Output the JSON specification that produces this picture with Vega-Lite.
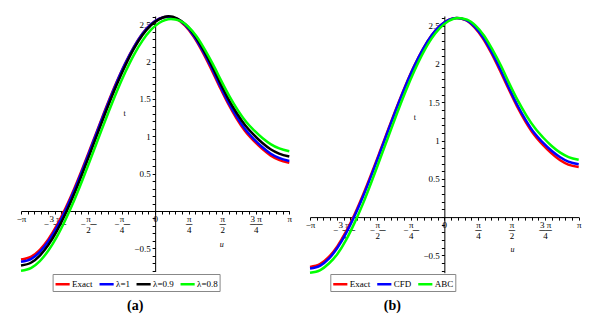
{
"$schema": "https://vega.github.io/schema/vega-lite/v6.json",
"padding": {"left": 16, "top": 11, "right": 5, "bottom": 5},
"bounds": "flush",
"spacing": 20,
"config": {"view": {"stroke": null}, "axis": {"grid": false, "domainColor": "black", "tickColor": "black", "labelColor": "black", "titleColor": "black", "labelFont": "Liberation Serif", "titleFont": "Liberation Serif", "labelOverlap": false, "labelFlush": false, "labelBound": false, "tickSize": 3, "domainWidth": 1, "tickWidth": 1}},
"resolve": {"scale": {"color": "independent"}, "legend": {"color": "independent"}},
"hconcat": [
{
"width": 268.3, "height": 255.5,
"title": {"text": "(a)", "orient": "bottom", "font": "Liberation Serif", "fontSize": 14, "fontWeight": "bold", "dx": -20, "offset": 7},
"data": {"values": [
{"u":-3.14159,"t":-0.65,"s":"Exact"},{"u":-2.9,"t":-0.61,"s":"Exact"},{"u":-2.7,"t":-0.52,"s":"Exact"},{"u":-2.5,"t":-0.378,"s":"Exact"},{"u":-2.3,"t":-0.19,"s":"Exact"},{"u":-2.1,"t":0.035,"s":"Exact"},{"u":-1.9,"t":0.291,"s":"Exact"},{"u":-1.7,"t":0.572,"s":"Exact"},{"u":-1.5,"t":0.866,"s":"Exact"},{"u":-1.3,"t":1.163,"s":"Exact"},{"u":-1.1,"t":1.455,"s":"Exact"},{"u":-0.9,"t":1.729,"s":"Exact"},{"u":-0.7,"t":1.978,"s":"Exact"},{"u":-0.5,"t":2.194,"s":"Exact"},{"u":-0.3,"t":2.371,"s":"Exact"},{"u":-0.1,"t":2.499,"s":"Exact"},{"u":0.1,"t":2.575,"s":"Exact"},{"u":0.28,"t":2.6,"s":"Exact"},{"u":0.5,"t":2.57,"s":"Exact"},{"u":0.7,"t":2.48,"s":"Exact"},{"u":0.9,"t":2.335,"s":"Exact"},{"u":1.1,"t":2.14,"s":"Exact"},{"u":1.3,"t":1.915,"s":"Exact"},{"u":1.5,"t":1.675,"s":"Exact"},{"u":1.7,"t":1.445,"s":"Exact"},{"u":1.9,"t":1.245,"s":"Exact"},{"u":2.1,"t":1.075,"s":"Exact"},{"u":2.3,"t":0.945,"s":"Exact"},{"u":2.5,"t":0.835,"s":"Exact"},{"u":2.7,"t":0.745,"s":"Exact"},{"u":2.9,"t":0.685,"s":"Exact"},{"u":3.14159,"t":0.645,"s":"Exact"},
{"u":-3.14159,"t":-0.68,"s":"λ=1"},{"u":-2.9,"t":-0.64,"s":"λ=1"},{"u":-2.7,"t":-0.548,"s":"λ=1"},{"u":-2.5,"t":-0.405,"s":"λ=1"},{"u":-2.3,"t":-0.216,"s":"λ=1"},{"u":-2.1,"t":0.011,"s":"λ=1"},{"u":-1.9,"t":0.27,"s":"λ=1"},{"u":-1.7,"t":0.553,"s":"λ=1"},{"u":-1.5,"t":0.85,"s":"λ=1"},{"u":-1.3,"t":1.15,"s":"λ=1"},{"u":-1.1,"t":1.444,"s":"λ=1"},{"u":-0.9,"t":1.721,"s":"λ=1"},{"u":-0.7,"t":1.972,"s":"λ=1"},{"u":-0.5,"t":2.19,"s":"λ=1"},{"u":-0.3,"t":2.369,"s":"λ=1"},{"u":-0.1,"t":2.498,"s":"λ=1"},{"u":0.1,"t":2.575,"s":"λ=1"},{"u":0.29,"t":2.6,"s":"λ=1"},{"u":0.5,"t":2.575,"s":"λ=1"},{"u":0.7,"t":2.49,"s":"λ=1"},{"u":0.9,"t":2.35,"s":"λ=1"},{"u":1.1,"t":2.16,"s":"λ=1"},{"u":1.3,"t":1.94,"s":"λ=1"},{"u":1.5,"t":1.7,"s":"λ=1"},{"u":1.7,"t":1.47,"s":"λ=1"},{"u":1.9,"t":1.27,"s":"λ=1"},{"u":2.1,"t":1.1,"s":"λ=1"},{"u":2.3,"t":0.97,"s":"λ=1"},{"u":2.5,"t":0.86,"s":"λ=1"},{"u":2.7,"t":0.77,"s":"λ=1"},{"u":2.9,"t":0.71,"s":"λ=1"},{"u":3.14159,"t":0.67,"s":"λ=1"},
{"u":-3.14159,"t":-0.73,"s":"λ=0.9"},{"u":-2.9,"t":-0.69,"s":"λ=0.9"},{"u":-2.7,"t":-0.597,"s":"λ=0.9"},{"u":-2.5,"t":-0.454,"s":"λ=0.9"},{"u":-2.3,"t":-0.265,"s":"λ=0.9"},{"u":-2.1,"t":-0.037,"s":"λ=0.9"},{"u":-1.9,"t":0.224,"s":"λ=0.9"},{"u":-1.7,"t":0.509,"s":"λ=0.9"},{"u":-1.5,"t":0.808,"s":"λ=0.9"},{"u":-1.3,"t":1.11,"s":"λ=0.9"},{"u":-1.1,"t":1.408,"s":"λ=0.9"},{"u":-0.9,"t":1.689,"s":"λ=0.9"},{"u":-0.7,"t":1.945,"s":"λ=0.9"},{"u":-0.5,"t":2.169,"s":"λ=0.9"},{"u":-0.3,"t":2.352,"s":"λ=0.9"},{"u":-0.1,"t":2.485,"s":"λ=0.9"},{"u":0.1,"t":2.569,"s":"λ=0.9"},{"u":0.31,"t":2.605,"s":"λ=0.9"},{"u":0.519,"t":2.576,"s":"λ=0.9"},{"u":0.717,"t":2.494,"s":"λ=0.9"},{"u":0.916,"t":2.358,"s":"λ=0.9"},{"u":1.114,"t":2.174,"s":"λ=0.9"},{"u":1.313,"t":1.961,"s":"λ=0.9"},{"u":1.512,"t":1.728,"s":"λ=0.9"},{"u":1.71,"t":1.505,"s":"λ=0.9"},{"u":1.909,"t":1.311,"s":"λ=0.9"},{"u":2.108,"t":1.147,"s":"λ=0.9"},{"u":2.306,"t":1.021,"s":"λ=0.9"},{"u":2.505,"t":0.914,"s":"λ=0.9"},{"u":2.703,"t":0.827,"s":"λ=0.9"},{"u":2.902,"t":0.769,"s":"λ=0.9"},{"u":3.14159,"t":0.73,"s":"λ=0.9"},
{"u":-3.14159,"t":-0.8,"s":"λ=0.8"},{"u":-2.9,"t":-0.761,"s":"λ=0.8"},{"u":-2.7,"t":-0.67,"s":"λ=0.8"},{"u":-2.5,"t":-0.53,"s":"λ=0.8"},{"u":-2.3,"t":-0.344,"s":"λ=0.8"},{"u":-2.1,"t":-0.118,"s":"λ=0.8"},{"u":-1.9,"t":0.137,"s":"λ=0.8"},{"u":-1.7,"t":0.418,"s":"λ=0.8"},{"u":-1.5,"t":0.714,"s":"λ=0.8"},{"u":-1.3,"t":1.015,"s":"λ=0.8"},{"u":-1.1,"t":1.312,"s":"λ=0.8"},{"u":-0.9,"t":1.597,"s":"λ=0.8"},{"u":-0.7,"t":1.857,"s":"λ=0.8"},{"u":-0.5,"t":2.087,"s":"λ=0.8"},{"u":-0.3,"t":2.277,"s":"λ=0.8"},{"u":-0.1,"t":2.423,"s":"λ=0.8"},{"u":0.1,"t":2.52,"s":"λ=0.8"},{"u":0.37,"t":2.57,"s":"λ=0.8"},{"u":0.574,"t":2.547,"s":"λ=0.8"},{"u":0.769,"t":2.469,"s":"λ=0.8"},{"u":0.963,"t":2.341,"s":"λ=0.8"},{"u":1.157,"t":2.166,"s":"λ=0.8"},{"u":1.352,"t":1.965,"s":"λ=0.8"},{"u":1.546,"t":1.745,"s":"λ=0.8"},{"u":1.741,"t":1.534,"s":"λ=0.8"},{"u":1.935,"t":1.35,"s":"λ=0.8"},{"u":2.129,"t":1.194,"s":"λ=0.8"},{"u":2.324,"t":1.075,"s":"λ=0.8"},{"u":2.518,"t":0.974,"s":"λ=0.8"},{"u":2.713,"t":0.892,"s":"λ=0.8"},{"u":2.907,"t":0.837,"s":"λ=0.8"},{"u":3.14159,"t":0.8,"s":"λ=0.8"}
]},
"mark": {"type": "line", "strokeWidth": 2.5, "interpolate": "monotone"},
"encoding": {
"x": {"field": "u", "type": "quantitative", "scale": {"domain": [-3.14159265, 3.14159265], "nice": false, "zero": false},
 "axis": {"values": [-3.14159265,-2.98451302,-2.82743339,-2.67035376,-2.51327412,-2.35619449,-2.19911486,-2.04203522,-1.88495559,-1.72787596,-1.57079633,-1.41371669,-1.25663706,-1.09955743,-0.9424778,-0.78539816,-0.62831853,-0.4712389,-0.31415927,-0.15707963,0,0.15707963,0.31415927,0.4712389,0.62831853,0.78539816,0.9424778,1.09955743,1.25663706,1.41371669,1.57079633,1.72787596,1.88495559,2.04203522,2.19911486,2.35619449,2.51327412,2.67035376,2.82743339,2.98451302,3.14159265],
 "offset": -60.5, "title": "u", "titleX": 200.3, "titleY": 33, "titleBaseline": "middle", "titleFontStyle": "italic", "titleFontWeight": "normal", "titleFontSize": 8,
 "labelFontSize": 9, "labelLineHeight": 5.5, "labelPadding": 0,
 "labelExpr": "round(datum.value*20/PI)%5!=0 ? '' : round(datum.value*4/PI)==-4 ? '−π' : round(datum.value*4/PI)==-3 ? ['3 π','−\u2002──\u2002\u2002','4'] : round(datum.value*4/PI)==-2 ? ['π','−\u2002─\u2002\u2002','2'] : round(datum.value*4/PI)==-1 ? ['π','−\u2002─\u2002\u2002','4'] : round(datum.value*4/PI)==0 ? '0\u2002\u2002' : round(datum.value*4/PI)==1 ? ['π','─','4'] : round(datum.value*4/PI)==2 ? ['π','─','2'] : round(datum.value*4/PI)==3 ? ['3 π','──','4'] : 'π'"}},
"y": {"field": "t", "type": "quantitative", "scale": {"domain": [-0.81, 2.61], "nice": false, "zero": false},
 "axis": {"values": [-0.8,-0.7,-0.6,-0.5,-0.4,-0.3,-0.2,-0.1,0,0.1,0.2,0.3,0.4,0.5,0.6,0.7,0.8,0.9,1,1.1,1.2,1.3,1.4,1.5,1.6,1.7,1.8,1.9,2,2.1,2.2,2.3,2.4,2.5,2.6],
 "offset": -134.15, "title": "t", "titleAngle": 0, "titleX": -31, "titleY": 97.7, "titleAlign": "center", "titleBaseline": "middle", "titleFontWeight": "normal", "titleFontSize": 8,
 "labelFontSize": 9, "labelPadding": 2,
 "labelExpr": "abs(datum.value*2-round(datum.value*2))<0.001 && abs(datum.value)>0.001 ? format(datum.value,'') : ''"}},
"color": {"field": "s", "type": "nominal", "scale": {"domain": ["Exact","λ=1","λ=0.9","λ=0.8"], "range": ["#ff0000","#0000ff","#000000","#00ff00"]},
 "legend": {"orient": "none", "legendX": 31.6, "legendY": 258, "direction": "horizontal", "columns": 4, "title": null, "symbolType": "stroke", "symbolSize": 200, "symbolStrokeWidth": 2.5, "labelFont": "Liberation Serif", "labelFontSize": 9, "labelColor": "black", "strokeColor": "#888", "fillColor": "white", "padding": 1.5, "columnPadding": 1, "labelOffset": 1}}
}
},
{
"width": 268.7, "height": 256.7,
"title": {"text": "(b)", "orient": "bottom", "font": "Liberation Serif", "fontSize": 14, "fontWeight": "bold", "dx": -52, "offset": 7},
"data": {"values": [
{"u":-3.14159,"t":-0.65,"s":"Exact"},{"u":-2.9,"t":-0.61,"s":"Exact"},{"u":-2.7,"t":-0.52,"s":"Exact"},{"u":-2.5,"t":-0.378,"s":"Exact"},{"u":-2.3,"t":-0.19,"s":"Exact"},{"u":-2.1,"t":0.035,"s":"Exact"},{"u":-1.9,"t":0.291,"s":"Exact"},{"u":-1.7,"t":0.572,"s":"Exact"},{"u":-1.5,"t":0.866,"s":"Exact"},{"u":-1.3,"t":1.163,"s":"Exact"},{"u":-1.1,"t":1.455,"s":"Exact"},{"u":-0.9,"t":1.729,"s":"Exact"},{"u":-0.7,"t":1.978,"s":"Exact"},{"u":-0.5,"t":2.194,"s":"Exact"},{"u":-0.3,"t":2.371,"s":"Exact"},{"u":-0.1,"t":2.499,"s":"Exact"},{"u":0.1,"t":2.575,"s":"Exact"},{"u":0.28,"t":2.6,"s":"Exact"},{"u":0.5,"t":2.57,"s":"Exact"},{"u":0.7,"t":2.48,"s":"Exact"},{"u":0.9,"t":2.335,"s":"Exact"},{"u":1.1,"t":2.14,"s":"Exact"},{"u":1.3,"t":1.915,"s":"Exact"},{"u":1.5,"t":1.675,"s":"Exact"},{"u":1.7,"t":1.445,"s":"Exact"},{"u":1.9,"t":1.245,"s":"Exact"},{"u":2.1,"t":1.075,"s":"Exact"},{"u":2.3,"t":0.945,"s":"Exact"},{"u":2.5,"t":0.835,"s":"Exact"},{"u":2.7,"t":0.745,"s":"Exact"},{"u":2.9,"t":0.685,"s":"Exact"},{"u":3.14159,"t":0.655,"s":"Exact"},
{"u":-3.14159,"t":-0.67,"s":"CFD"},{"u":-2.9,"t":-0.632,"s":"CFD"},{"u":-2.7,"t":-0.542,"s":"CFD"},{"u":-2.5,"t":-0.4,"s":"CFD"},{"u":-2.3,"t":-0.212,"s":"CFD"},{"u":-2.1,"t":0.014,"s":"CFD"},{"u":-1.9,"t":0.272,"s":"CFD"},{"u":-1.7,"t":0.555,"s":"CFD"},{"u":-1.5,"t":0.852,"s":"CFD"},{"u":-1.3,"t":1.152,"s":"CFD"},{"u":-1.1,"t":1.446,"s":"CFD"},{"u":-0.9,"t":1.723,"s":"CFD"},{"u":-0.7,"t":1.974,"s":"CFD"},{"u":-0.5,"t":2.192,"s":"CFD"},{"u":-0.3,"t":2.37,"s":"CFD"},{"u":-0.1,"t":2.498,"s":"CFD"},{"u":0.1,"t":2.575,"s":"CFD"},{"u":0.29,"t":2.6,"s":"CFD"},{"u":0.5,"t":2.575,"s":"CFD"},{"u":0.7,"t":2.49,"s":"CFD"},{"u":0.9,"t":2.35,"s":"CFD"},{"u":1.1,"t":2.16,"s":"CFD"},{"u":1.3,"t":1.94,"s":"CFD"},{"u":1.5,"t":1.7,"s":"CFD"},{"u":1.7,"t":1.47,"s":"CFD"},{"u":1.9,"t":1.27,"s":"CFD"},{"u":2.1,"t":1.1,"s":"CFD"},{"u":2.3,"t":0.975,"s":"CFD"},{"u":2.5,"t":0.87,"s":"CFD"},{"u":2.7,"t":0.785,"s":"CFD"},{"u":2.9,"t":0.725,"s":"CFD"},{"u":3.14159,"t":0.69,"s":"CFD"},
{"u":-3.14159,"t":-0.725,"s":"ABC"},{"u":-2.9,"t":-0.69,"s":"ABC"},{"u":-2.7,"t":-0.605,"s":"ABC"},{"u":-2.5,"t":-0.48,"s":"ABC"},{"u":-2.3,"t":-0.3,"s":"ABC"},{"u":-2.1,"t":-0.075,"s":"ABC"},{"u":-1.9,"t":0.18,"s":"ABC"},{"u":-1.7,"t":0.465,"s":"ABC"},{"u":-1.5,"t":0.765,"s":"ABC"},{"u":-1.3,"t":1.065,"s":"ABC"},{"u":-1.1,"t":1.365,"s":"ABC"},{"u":-0.9,"t":1.65,"s":"ABC"},{"u":-0.7,"t":1.91,"s":"ABC"},{"u":-0.5,"t":2.14,"s":"ABC"},{"u":-0.3,"t":2.33,"s":"ABC"},{"u":-0.1,"t":2.47,"s":"ABC"},{"u":0.1,"t":2.56,"s":"ABC"},{"u":0.32,"t":2.6,"s":"ABC"},{"u":0.53,"t":2.578,"s":"ABC"},{"u":0.73,"t":2.5,"s":"ABC"},{"u":0.93,"t":2.368,"s":"ABC"},{"u":1.125,"t":2.186,"s":"ABC"},{"u":1.325,"t":1.975,"s":"ABC"},{"u":1.52,"t":1.743,"s":"ABC"},{"u":1.72,"t":1.52,"s":"ABC"},{"u":1.92,"t":1.326,"s":"ABC"},{"u":2.118,"t":1.162,"s":"ABC"},{"u":2.315,"t":1.036,"s":"ABC"},{"u":2.51,"t":0.929,"s":"ABC"},{"u":2.71,"t":0.842,"s":"ABC"},{"u":2.905,"t":0.784,"s":"ABC"},{"u":3.14159,"t":0.75,"s":"ABC"}
]},
"mark": {"type": "line", "strokeWidth": 2.5, "interpolate": "monotone"},
"encoding": {
"x": {"field": "u", "type": "quantitative", "scale": {"domain": [-3.14159265, 3.14159265], "nice": false, "zero": false},
 "axis": {"values": [-3.14159265,-2.98451302,-2.82743339,-2.67035376,-2.51327412,-2.35619449,-2.19911486,-2.04203522,-1.88495559,-1.72787596,-1.57079633,-1.41371669,-1.25663706,-1.09955743,-0.9424778,-0.78539816,-0.62831853,-0.4712389,-0.31415927,-0.15707963,0,0.15707963,0.31415927,0.4712389,0.62831853,0.78539816,0.9424778,1.09955743,1.25663706,1.41371669,1.57079633,1.72787596,1.88495559,2.04203522,2.19911486,2.35619449,2.51327412,2.67035376,2.82743339,2.98451302,3.14159265],
 "offset": -55.6, "title": "u", "titleX": 202, "titleY": 32, "titleBaseline": "middle", "titleFontStyle": "italic", "titleFontWeight": "normal", "titleFontSize": 8,
 "labelFontSize": 9, "labelLineHeight": 5.5, "labelPadding": 0,
 "labelExpr": "round(datum.value*20/PI)%5!=0 ? '' : round(datum.value*4/PI)==-4 ? '−π' : round(datum.value*4/PI)==-3 ? ['3 π','−\u2002──\u2002\u2002','4'] : round(datum.value*4/PI)==-2 ? ['π','−\u2002─\u2002\u2002','2'] : round(datum.value*4/PI)==-1 ? ['π','−\u2002─\u2002\u2002','4'] : round(datum.value*4/PI)==0 ? '0\u2002\u2002' : round(datum.value*4/PI)==1 ? ['π','─','4'] : round(datum.value*4/PI)==2 ? ['π','─','2'] : round(datum.value*4/PI)==3 ? ['3 π','──','4'] : 'π'"}},
"y": {"field": "t", "type": "quantitative", "scale": {"domain": [-0.725, 2.625], "nice": false, "zero": false},
 "axis": {"values": [-0.7,-0.6,-0.5,-0.4,-0.3,-0.2,-0.1,0,0.1,0.2,0.3,0.4,0.5,0.6,0.7,0.8,0.9,1,1.1,1.2,1.3,1.4,1.5,1.6,1.7,1.8,1.9,2,2.1,2.2,2.3,2.4,2.5,2.6],
 "offset": -134.35, "title": "t", "titleAngle": 0, "titleX": -30, "titleY": 101.4, "titleAlign": "center", "titleBaseline": "middle", "titleFontWeight": "normal", "titleFontSize": 8,
 "labelFontSize": 9, "labelPadding": 2,
 "labelExpr": "abs(datum.value*2-round(datum.value*2))<0.001 && abs(datum.value)>0.001 ? format(datum.value,'') : ''"}},
"color": {"field": "s", "type": "nominal", "scale": {"domain": ["Exact","CFD","ABC"], "range": ["#ff0000","#0000ff","#00ff00"]},
 "legend": {"orient": "none", "legendX": 20.3, "legendY": 258, "direction": "horizontal", "columns": 3, "title": null, "symbolType": "stroke", "symbolSize": 200, "symbolStrokeWidth": 2.5, "labelFont": "Liberation Serif", "labelFontSize": 9, "labelColor": "black", "strokeColor": "#888", "fillColor": "white", "padding": 1.5, "columnPadding": 1, "labelOffset": 1}}
}
}
]
}
